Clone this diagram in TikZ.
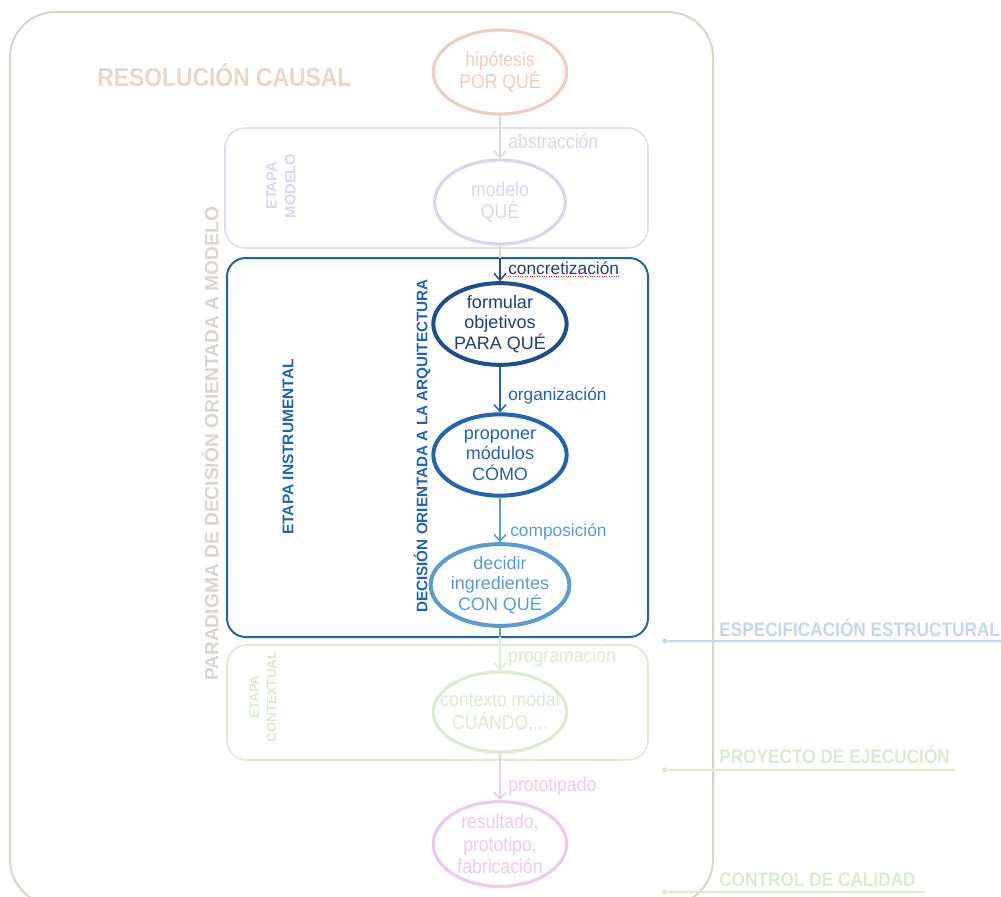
\documentclass[tikz,border=0pt]{standalone}
\usepackage{fontspec}
\setmainfont{Liberation Sans}
\newfontfamily\narrowsf[FakeStretch=0.88]{Liberation Sans}
\usetikzlibrary{shapes.geometric,arrows.meta}

\definecolor{tanline}{HTML}{DDD3C8}
\definecolor{tantext}{HTML}{E8D7CB}
\definecolor{salmon}{HTML}{F2CCC0}
\definecolor{lavline}{HTML}{E1DDEE}
\definecolor{lavring}{HTML}{DCD6EB}
\definecolor{navyline}{HTML}{1F4E8C}
\definecolor{navytext}{HTML}{1E3F76}
\definecolor{midblue}{HTML}{2264AE}
\definecolor{skyblue}{HTML}{5B9BD5}
\definecolor{boxblue}{HTML}{1F63B0}
\definecolor{titleblue}{HTML}{2163B5}
\definecolor{palegreen}{HTML}{DDEBD3}
\definecolor{greentext}{HTML}{DCEAD2}
\definecolor{darkgreen}{HTML}{5DB85A}
\definecolor{pinkline}{HTML}{EDCBEA}
\definecolor{specblue}{HTML}{C4D7EC}
\definecolor{paradigm}{HTML}{DDD5CF}
\definecolor{wavyred}{HTML}{E03030}

% a centred line of zero width, so long lines may overlap the ring
\newcommand{\wideline}[1]{\makebox[0pt]{#1}}

\begin{document}
\begin{tikzpicture}[x=0.75pt,y=-0.75pt,
  stage/.style={ellipse,draw,line width=3pt,minimum width=100pt,minimum height=61pt,
    inner sep=0pt,align=center,font=\fontsize{13.5}{15.5}\selectfont},
  faintstage/.style={stage,line width=2.4pt,font=\narrowsf\fontsize{15}{17}\selectfont},
  flow/.style={-{Straight Barb[length=5pt,width=9pt,line width=1.1pt]},line width=1.1pt},
  flowlbl/.style={anchor=west,inner sep=0pt,font=\fontsize{13}{15}\selectfont},
  faintlbl/.style={anchor=west,inner sep=0pt,font=\narrowsf\fontsize{15}{17}\selectfont},
  stagebox/.style={line width=1.2pt,rounded corners=15pt},
  sidetitle/.style={rotate=90,inner sep=0pt,align=center},
  phase/.style={anchor=base west,inner sep=0pt,font=\narrowsf\bfseries\fontsize{14.7}{16}\selectfont},
  phasedot/.style={circle,fill,inner sep=0pt,minimum size=4pt},
  phaseline/.style={line width=1.3pt}
]
\useasboundingbox (0,0) rectangle (1001,897);
\clip (0,0) rectangle (1001,897);
\fill[white] (0,0) rectangle (1001,897);

% outer frame of the causal resolution
\draw[tanline,line width=1.5pt,rounded corners=34pt] (10,12) rectangle (713,905);
\node[anchor=west,inner sep=0pt,text=tantext,font=\narrowsf\bfseries\fontsize{19.5}{22}\selectfont]
  (title) at (97,75) {RESOLUCIÓN CAUSAL};

% vertical paradigm label
\node[rotate=90,inner sep=0pt,text=paradigm,font=\bfseries\fontsize{14.4}{17}\selectfont]
  (paradigma) at (210,444) {PARADIGMA DE DECISIÓN ORIENTADA A MODELO};

% stage frames
\draw[stagebox,lavline] (225,128) rectangle (648,248);
\draw[stagebox,palegreen] (227,645) rectangle (648,760);
\draw[boxblue,line width=1.5pt,rounded corners=14pt,fill=white] (227,258) rectangle (648,637);

\node[sidetitle,text=lavring,font=\bfseries\fontsize{11}{14}\selectfont] (etmodelo) at (281,186) {ETAPA\\MODELO};
\node[sidetitle,text=greentext,font=\bfseries\fontsize{10}{13}\selectfont] (etcontextual) at (263,697) {ETAPA\\CONTEXTUAL};
\node[rotate=90,inner sep=0pt,text=titleblue,font=\bfseries\fontsize{11.6}{13}\selectfont]
  (etinstr) at (288,447) {ETAPA INSTRUMENTAL};
\node[rotate=90,inner sep=0pt,text=titleblue,font=\bfseries\fontsize{11.45}{13}\selectfont]
  (decision) at (422,446) {DECISIÓN ORIENTADA A LA ARQUITECTURA};

% chain of stages
\node[faintstage,draw=salmon,text=salmon,minimum height=63pt] (hipo) at (500,72) {hipótesis\\POR QUÉ};
\node[faintstage,draw=lavring,text=lavring,minimum width=98pt,minimum height=63pt] (modelo) at (500,202) {modelo\\QUÉ};
\node[stage,draw=navyline,text=navytext,minimum height=56pt] (formular) at (500,324) {formular\\objetivos\\PARA QUÉ};
\node[stage,draw=midblue,text=midblue] (proponer) at (500,455) {proponer\\módulos\\CÓMO};
\node[stage,draw=skyblue,text=skyblue,minimum height=60pt] (decidir) at (500,585) {decidir\\ingredientes\\CON QUÉ};
\node[faintstage,draw=palegreen,text=greentext,minimum height=60pt] (contexto) at (500,712)
  {\wideline{contexto modal}\\\wideline{CUÁNDO,...}};
\node[faintstage,draw=pinkline,text=pinkline,minimum height=62pt] (resultado) at (500,844) {resultado,\\prototipo,\\fabricación};

% connectors between stages
\draw[flow,lavring] (hipo) -- (modelo);
\draw[flow,navyline] (modelo) -- (formular);
\coordinate (bluetop) at (500,258);
\draw[lavring,line width=1.1pt] (modelo.south) -- (bluetop);
\draw[flow,midblue] (formular) -- (proponer);
\draw[flow,skyblue] (proponer) -- (decidir);
\draw[flow,palegreen] (decidir) -- (contexto);
\coordinate (bluebottom) at (500,637);
\draw[darkgreen,line width=1.1pt] (decidir.south) -- (bluebottom);
\draw[flow,pinkline] (contexto) -- (resultado);

% connector labels
\node[faintlbl,text=lavring] (abstr) at (508,141) {abstracción};
\node[flowlbl,text=navytext] (concr) at (508,268) {concretización};
\draw[wavyred,densely dotted,line width=0.8pt] ([yshift=-1.5pt]concr.south west) -- ([yshift=-1.5pt]concr.south east);
\node[flowlbl,text=midblue] (organ) at (508,396) {organización};
\node[flowlbl,text=skyblue] (compo) at (510,532) {composición};
\node[faintlbl,text=greentext] (progr) at (508,657) {programación};
\node[faintlbl,text=pinkline] (proto) at (508,786) {prototipado};

% phase markers on the right
\node[phasedot,specblue] (d1) at (665,641) {};
\coordinate (e1) at (1001,641);
\draw[phaseline,specblue] (d1) -- (e1);
\node[phase,text=specblue] (espec) at (719,636) {ESPECIFICACIÓN ESTRUCTURAL};

\node[phasedot,palegreen] (d2) at (665,770) {};
\coordinate (e2) at (955,770);
\draw[phaseline,palegreen] (d2) -- (e2);
\node[phase,text=greentext] (proyecto) at (719,763) {PROYECTO DE EJECUCIÓN};

\node[phasedot,palegreen] (d3) at (665,892) {};
\coordinate (e3) at (925,892);
\draw[phaseline,palegreen] (d3) -- (e3);
\node[phase,text=greentext] (control) at (719,886) {CONTROL DE CALIDAD};
\end{tikzpicture}
\end{document}
